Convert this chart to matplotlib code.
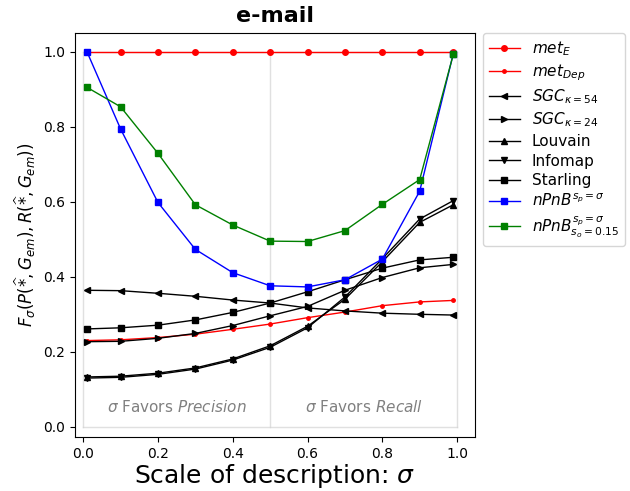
import numpy as np
import matplotlib
matplotlib.use('Agg')
import matplotlib.pyplot as plt

# scale of description values
sigma = [0.01, 0.1, 0.2, 0.3, 0.4, 0.5, 0.6, 0.7, 0.8, 0.9, 0.99]

met_e = [1.0, 1.0, 1.0, 1.0, 1.0, 1.0, 1.0, 1.0, 1.0, 1.0, 1.0]
met_dep = [0.230, 0.232, 0.238, 0.247, 0.260, 0.274, 0.291, 0.306, 0.323, 0.333, 0.337]
sgc_54 = [0.364, 0.363, 0.356, 0.348, 0.338, 0.330, 0.317, 0.309, 0.303, 0.300, 0.298]
sgc_24 = [0.227, 0.228, 0.236, 0.249, 0.270, 0.296, 0.321, 0.364, 0.398, 0.424, 0.433]
louvain = [0.133, 0.135, 0.143, 0.157, 0.181, 0.216, 0.268, 0.340, 0.440, 0.545, 0.592]
infomap = [0.130, 0.132, 0.140, 0.154, 0.178, 0.212, 0.264, 0.346, 0.448, 0.554, 0.603]
starling = [0.261, 0.264, 0.271, 0.285, 0.305, 0.330, 0.360, 0.392, 0.423, 0.445, 0.452]
npnb = [1.0, 0.794, 0.598, 0.473, 0.411, 0.376, 0.373, 0.392, 0.447, 0.628, 0.995]
npnb_so = [0.905, 0.853, 0.729, 0.592, 0.538, 0.495, 0.494, 0.523, 0.593, 0.659, 0.993]

fig = plt.figure(figsize=(6.3, 4.91), dpi=100)
ax = fig.add_axes([0.119, 0.110, 0.635, 0.823])

# precision / recall regions
ax.plot([0, 0], [0, 1], color='lightgray', lw=1, alpha=0.7)
ax.plot([0.5, 0.5], [0, 1], color='lightgray', lw=1, alpha=0.7)
ax.plot([1, 1], [0, 1], color='lightgray', lw=1, alpha=0.7)
ax.plot([0, 1], [0, 0], color='lightgray', lw=1, alpha=0.7)
ax.plot([0, 1], [1, 1], color='lightgray', lw=1, alpha=0.7)
ax.text(0.25, 0.04, r'$\sigma$ Favors $Precision$', color='gray', fontsize=11, ha='center')
ax.text(0.75, 0.04, r'$\sigma$ Favors $Recall$', color='gray', fontsize=11, ha='center')

ax.plot(sigma, met_e, 'o-', color='red', ms=4, lw=1, label=r'$met_E$')
ax.plot(sigma, met_dep, '.-', color='red', ms=5, lw=1, label=r'$met_{Dep}$')
ax.plot(sigma, sgc_54, '<-', color='black', ms=5, lw=1, label=r'$SGC_{\kappa=54}$')
ax.plot(sigma, sgc_24, '>-', color='black', ms=5, lw=1, label=r'$SGC_{\kappa=24}$')
ax.plot(sigma, louvain, '^-', color='black', ms=5, lw=1, label='Louvain')
ax.plot(sigma, infomap, 'v-', color='black', ms=5, lw=1, label='Infomap')
ax.plot(sigma, starling, 's-', color='black', ms=5, lw=1, label='Starling')
ax.plot(sigma, npnb, 's-', color='blue', ms=5, lw=1, label=r'$nPnB^{s_p=\sigma}$')
ax.plot(sigma, npnb_so, 's-', color='green', ms=5, lw=1, label=r'$nPnB^{s_p=\sigma}_{s_o=0.15}$')

ax.set_xlim(-0.022, 1.048)
ax.set_ylim(-0.027, 1.05)
ax.set_xticks([0.0, 0.2, 0.4, 0.6, 0.8, 1.0])
ax.set_yticks([0.0, 0.2, 0.4, 0.6, 0.8, 1.0])
ax.tick_params(labelsize=10)

ax.set_title('e-mail', fontsize=16, fontweight='bold', pad=8)
ax.set_xlabel(r'Scale of description: $\sigma$', fontsize=18, labelpad=1)
ax.set_ylabel(r'$F_\sigma(P(\widehat{*},G_{em}),R(\widehat{*},G_{em}))$', fontsize=12)

ax.legend(loc='upper left', bbox_to_anchor=(1.02, 1.0), fontsize=11,
          borderaxespad=0, handlelength=2, labelspacing=0.3,
          borderpad=0.4, handletextpad=0.8)

fig.savefig('out.png', dpi=100)
